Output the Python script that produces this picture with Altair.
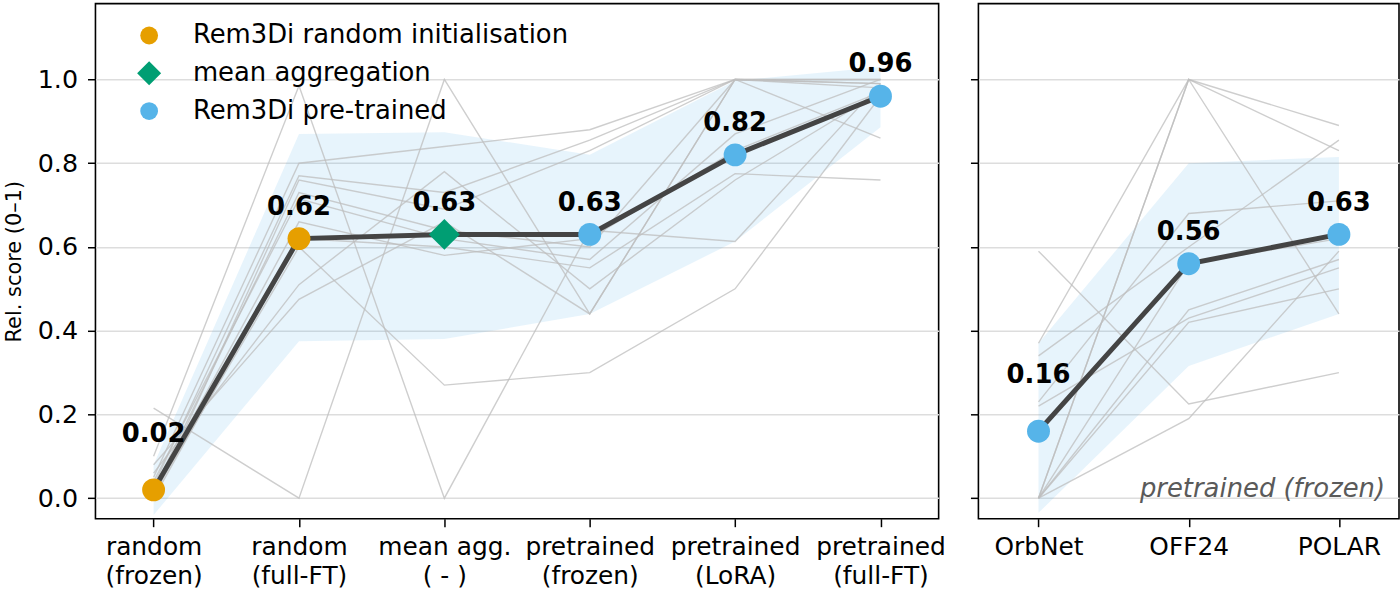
import altair as alt
import pandas as pd

FONT = "DejaVu Sans"

# ---- left panel: Rem3Di variants -------------------------------------------
left_cats = [
    "random|(frozen)", "random|(full-FT)", "mean agg.|( - )",
    "pretrained|(frozen)", "pretrained|(LoRA)", "pretrained|(full-FT)",
]
left_mean = [0.02, 0.62, 0.63, 0.63, 0.82, 0.96]
left_group = [
    "Rem3Di random initialisation", "Rem3Di random initialisation",
    "mean aggregation", "Rem3Di pre-trained", "Rem3Di pre-trained",
    "Rem3Di pre-trained",
]
left_lo = [-0.04, 0.375, 0.38, 0.44, 0.613, 0.886]
left_hi = [0.08, 0.87, 0.874, 0.82, 0.997, 1.03]
left_tasks = [
    [0.05, 0.80, 0.84, 0.88, 1.00, 1.00],
    [0.03, 0.77, 0.73, 0.855, 1.00, 0.99],
    [0.00, 0.76, 0.69, 0.83, 1.00, 0.86],
    [0.02, 0.73, 0.64, 0.60, 1.00, 0.98],
    [0.04, 0.715, 0.62, 0.57, 0.87, 1.00],
    [0.00, 0.62, 0.60, 0.55, 0.775, 0.76],
    [0.06, 0.51, 0.78, 0.50, 0.76, 0.97],
    [0.08, 0.475, 0.66, 0.44, 1.00, 1.00],
    [0.10, 0.985, 0.00, 0.64, 0.613, 0.99],
    [0.215, 0.00, 1.00, 0.44, 1.00, 0.99],
    [0.01, 0.60, 0.27, 0.30, 0.50, 0.96],
    [0.02, 0.66, 0.58, 0.62, 0.83, 0.97],
]

# ---- right panel: other pretrained encoders ---------------------------------
right_cats = ["OrbNet", "OFF24", "POLAR"]
right_mean = [0.16, 0.56, 0.63]
right_group = ["Rem3Di pre-trained"] * 3
right_lo = [-0.035, 0.316, 0.44]
right_hi = [0.37, 0.80, 0.815]
right_tasks = [
    [0.59, 0.225, 0.30],
    [0.00, 1.00, 0.89],
    [0.00, 1.00, 0.44],
    [0.37, 1.00, 0.83],
    [0.23, 0.68, 0.71],
    [0.00, 0.19, 0.59],
    [0.22, 0.43, 0.55],
    [0.00, 0.42, 0.50],
    [0.00, 0.56, 0.62],
    [0.34, 0.60, 0.855],
    [0.00, 0.45, 0.57],
]
right_note = "pretrained (frozen)"

legend_order = ["Rem3Di random initialisation", "mean aggregation", "Rem3Di pre-trained"]
legend_colors = ["#E69F00", "#009E73", "#56B4E9"]
# a slightly enlarged diamond so it reads as big as the circles
BIG_DIAMOND = "M-1.35,0L0,-1.35L1.35,0L0,1.35Z"
legend_shapes = ["circle", BIG_DIAMOND, "circle"]

Y_SCALE = alt.Scale(domain=[-0.049, 1.181], nice=False, zero=False)


def panel(cats, means, groups, lo, hi, tasks, width, first, note=None):
    summary = pd.DataFrame({
        "cat": cats, "mean": means, "group": groups, "lo": lo, "hi": hi,
        "idx": list(range(len(cats))),
        "label": [f"{m:.2f}" for m in means],
    })
    lines = pd.DataFrame([
        {"cat": c, "score": s, "task": t, "idx": j}
        for t, row in enumerate(tasks)
        for j, (c, s) in enumerate(zip(cats, row))
    ])

    x_axis = alt.Axis(
        title=None, labelExpr="split(datum.value, '|')", labelAngle=0,
        labelFontSize=25, labelLineHeight=29, labelPadding=8, labelColor="black",
        tickSize=8, tickWidth=1.5, tickColor="black", domain=False, grid=False,
        labelFont=FONT,
    )
    x = alt.X("cat:N", sort=cats, scale=alt.Scale(type="point", padding=0.4), axis=x_axis)

    if first:
        y_axis = alt.Axis(
            title="Rel. score (0–1)", titleFontSize=21, titleFontWeight="normal",
            titlePadding=13, titleColor="black", titleFont=FONT,
            values=[0, 0.2, 0.4, 0.6, 0.8, 1.0], format=".1f",
            labelFontSize=25.5, labelPadding=10, labelColor="black", labelFont=FONT,
            tickSize=8, tickWidth=1.5, tickColor="black",
            gridColor="#dddddd", gridWidth=1.5, domain=False,
        )
    else:
        y_axis = alt.Axis(
            title=None, labels=False, values=[0, 0.2, 0.4, 0.6, 0.8, 1.0],
            tickSize=8, tickWidth=1.5, tickColor="black",
            gridColor="#dddddd", gridWidth=1.5, domain=False,
        )

    band = alt.Chart(summary).mark_area(color="#56B4E9", opacity=0.14).encode(
        x=x,
        y=alt.Y("lo:Q", scale=Y_SCALE, axis=y_axis),
        y2=alt.Y2("hi:Q"),
    )

    gray = alt.Chart(lines).mark_line(color="#bdbdbd", strokeWidth=1.4, opacity=0.75).encode(
        x=x, y=alt.Y("score:Q", scale=Y_SCALE), detail="task:N", order="idx:Q",
    )

    mean_line = alt.Chart(summary).mark_line(color="#444444", strokeWidth=5).encode(
        x=x, y=alt.Y("mean:Q", scale=Y_SCALE), order="idx:Q",
    )

    if first:
        legend = alt.Legend(
            title=None, orient="none", legendX=41, legendY=19, padding=0,
            labelFontSize=26, labelFont=FONT, labelColor="black", labelLimit=0,
            symbolSize=320, symbolStrokeWidth=0, labelOffset=31, rowPadding=12,
            symbolOpacity=1,
        )
    else:
        legend = None

    color = alt.Color("group:N", scale=alt.Scale(domain=legend_order, range=legend_colors), legend=legend)
    shape = alt.Shape("group:N", scale=alt.Scale(domain=legend_order, range=legend_shapes), legend=legend)
    points = alt.Chart(summary).mark_point(filled=True, opacity=1, strokeWidth=0, size=530).encode(
        x=x, y=alt.Y("mean:Q", scale=Y_SCALE), color=color, shape=shape,
    )

    text_kw = dict(fontSize=26, fontWeight="bold", font=FONT, color="black", baseline="middle")
    labels = alt.Chart(summary).transform_filter("datum.idx > 0").mark_text(dy=-32, **text_kw).encode(
        x=x, y=alt.Y("mean:Q", scale=Y_SCALE), text="label:N",
    )
    labels_first = alt.Chart(summary).transform_filter("datum.idx == 0").mark_text(dy=-56, **text_kw).encode(
        x=x, y=alt.Y("mean:Q", scale=Y_SCALE), text="label:N",
    )

    layers = [band, gray, mean_line, points, labels, labels_first]
    if note:
        layers.append(
            alt.Chart(pd.DataFrame({"note": [note]})).mark_text(
                fontSize=26, fontStyle="italic", font=FONT, color="#5a5a5a",
                align="right", baseline="middle",
            ).encode(text="note:N", x=alt.value(width - 14), y=alt.value(488))
        )
    return alt.layer(*layers).properties(width=width, height=518)


left = panel(left_cats, left_mean, left_group, left_lo, left_hi, left_tasks, 848, True)
right = panel(right_cats, right_mean, right_group, right_lo, right_hi, right_tasks, 423, False, right_note)

chart = (
    alt.hconcat(left, right, spacing=22)
    .resolve_scale(color="independent", shape="independent")
    .resolve_legend(color="independent", shape="independent")
    .properties(padding={"left": 2, "top": 1, "right": 0, "bottom": 0})
    .configure(font=FONT)
    .configure_view(stroke="black", strokeWidth=1.6)
)

chart.save("out.html", embed_options={"renderer": "svg", "actions": False})
